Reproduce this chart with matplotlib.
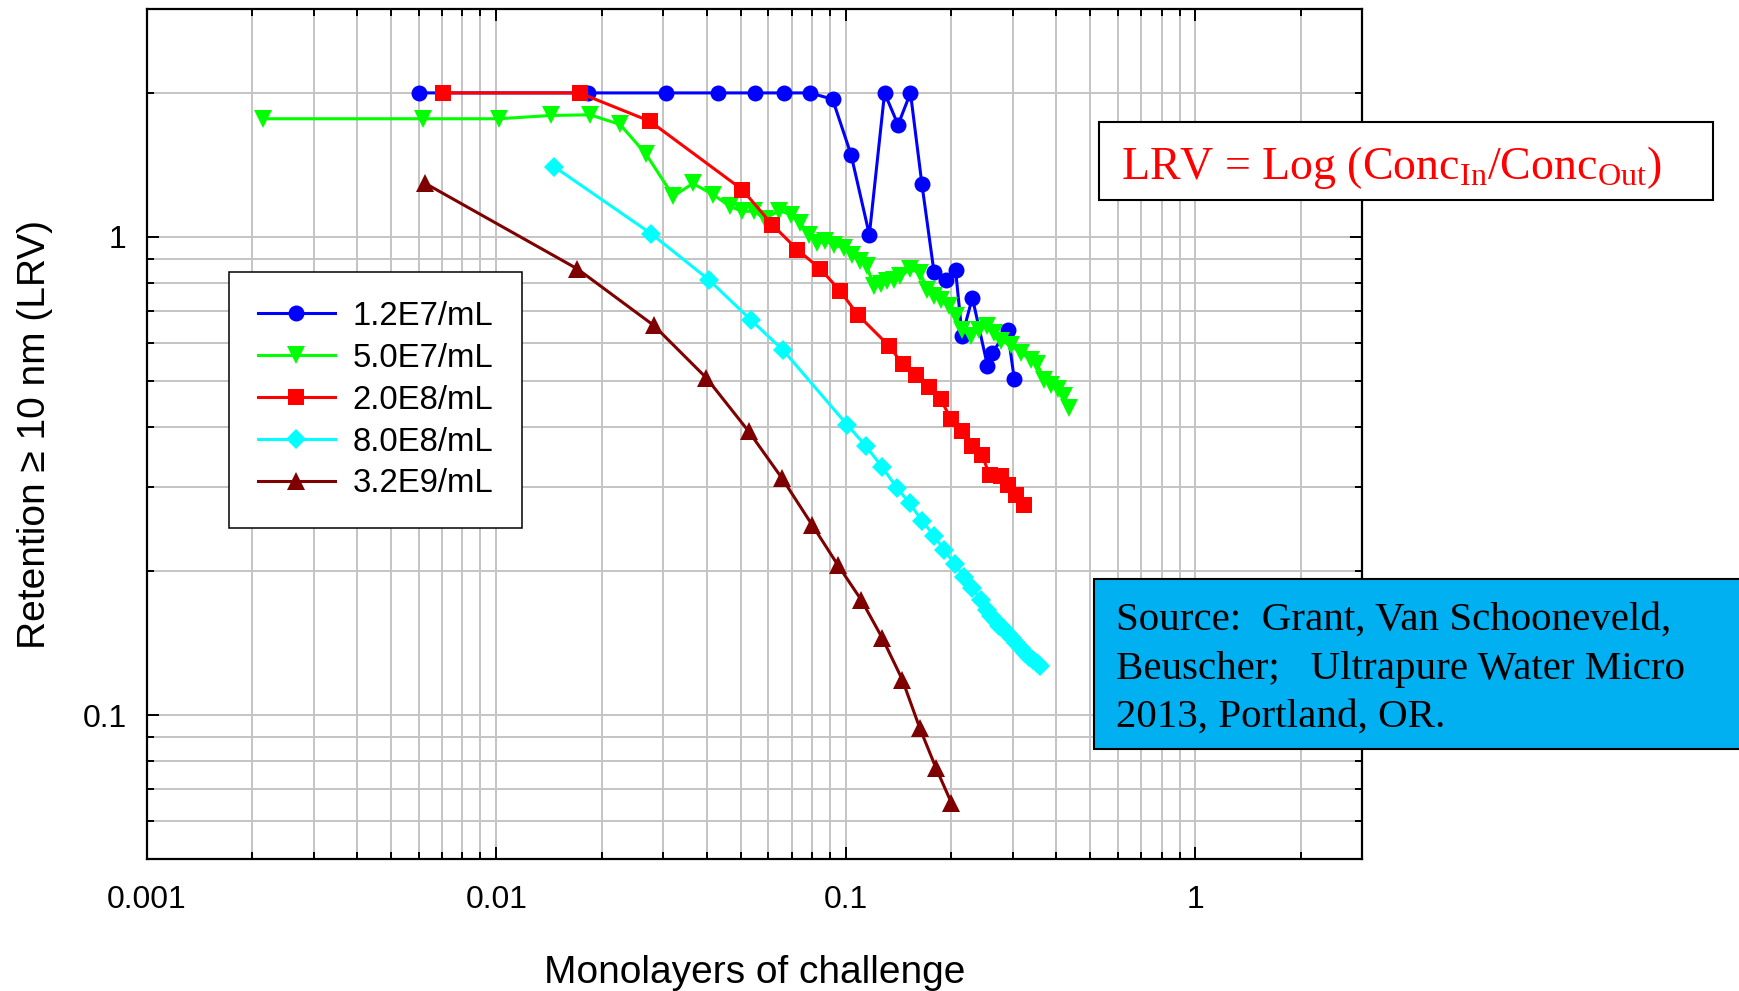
import numpy as np
import matplotlib
matplotlib.use("Agg")
import matplotlib.pyplot as plt
from matplotlib.ticker import FixedLocator, FixedFormatter, LogLocator, NullFormatter
from matplotlib.patches import Rectangle

# ---------------- data ----------------
labels = ["1.2E7/mL", "5.0E7/mL", "2.0E8/mL", "8.0E8/mL", "3.2E9/mL"]

blue_x = [0.0060, 0.0183, 0.0305, 0.043, 0.0548, 0.0667, 0.079, 0.0916, 0.1035, 0.1167,
          0.129, 0.141, 0.153, 0.165, 0.1787, 0.1936, 0.206, 0.215, 0.230, 0.254, 0.262,
          0.290, 0.303]
blue_y = [2.0, 2.0, 2.0, 2.0, 2.0, 2.0, 2.0, 1.94, 1.484, 1.01,
          2.0, 1.715, 2.0, 1.288, 0.843, 0.813, 0.851, 0.62, 0.746, 0.538, 0.572,
          0.638, 0.505]

green_x = [0.00215, 0.00618, 0.0102, 0.0143, 0.01854, 0.0226, 0.0268, 0.0321, 0.0365, 0.0417,
           0.0465, 0.0505, 0.0546, 0.0587, 0.0643, 0.0698, 0.0741, 0.0782, 0.0827, 0.0874,
           0.0923, 0.0986, 0.104, 0.110, 0.115, 0.120, 0.1256, 0.131, 0.137, 0.143,
           0.153, 0.163, 0.171, 0.179, 0.1866, 0.197, 0.206, 0.215, 0.2275, 0.240,
           0.254, 0.265, 0.277, 0.296, 0.316, 0.338, 0.353, 0.369, 0.385, 0.403,
           0.421, 0.435]
green_y = [1.766, 1.766, 1.766, 1.794, 1.80, 1.718, 1.49, 1.216, 1.293, 1.226,
           1.159, 1.131, 1.131, 1.09, 1.135, 1.113, 1.069, 1.011, 0.972, 0.979,
           0.963, 0.948, 0.918, 0.889, 0.868, 0.789, 0.795, 0.807, 0.814, 0.828,
           0.855, 0.841, 0.776, 0.751, 0.739, 0.716, 0.682, 0.640, 0.620, 0.640,
           0.650, 0.630, 0.605, 0.595, 0.572, 0.554, 0.541, 0.503, 0.491, 0.480,
           0.464, 0.439]

red_x = [0.00702, 0.0173, 0.0275, 0.0505, 0.0615, 0.0727, 0.0845, 0.0964, 0.108, 0.1327,
         0.1456, 0.159, 0.173, 0.1866, 0.200, 0.215, 0.230, 0.245, 0.258, 0.277,
         0.290, 0.306, 0.323]
red_y = [2.0, 2.0, 1.745, 1.256, 1.061, 0.94, 0.857, 0.77, 0.688, 0.592,
         0.541, 0.513, 0.486, 0.457, 0.416, 0.392, 0.365, 0.350, 0.317, 0.316,
         0.303, 0.289, 0.275]

cyan_x = [0.01466, 0.0277, 0.0405, 0.0534, 0.0662, 0.1007, 0.1138, 0.127, 0.140, 0.1524,
          0.165, 0.179, 0.191, 0.205, 0.218, 0.230, 0.243, 0.254, 0.2606, 0.268,
          0.275, 0.283, 0.291, 0.299, 0.3076, 0.316, 0.325, 0.334, 0.3436, 0.3516, 0.360]
cyan_y = [1.401, 1.016, 0.814, 0.671, 0.579, 0.405, 0.366, 0.330, 0.2985, 0.277,
          0.255, 0.237, 0.221, 0.207, 0.1945, 0.1845, 0.174, 0.166, 0.161, 0.157,
          0.1535, 0.151, 0.1478, 0.145, 0.1413, 0.138, 0.135, 0.1325, 0.1303, 0.1283, 0.1264]

brown_x = [0.00627, 0.01706, 0.0282, 0.0399, 0.0527, 0.0656, 0.080, 0.0948, 0.1107, 0.127,
           0.145, 0.1626, 0.181, 0.2004]
brown_y = [1.293, 0.857, 0.653, 0.507, 0.392, 0.313, 0.250, 0.206, 0.174, 0.145,
           0.1186, 0.094, 0.0775, 0.0655]

x_ticks = [0.001, 0.01, 0.1, 1]
x_ticklabels = ["0.001", "0.01", "0.1", "1"]
y_ticks = [0.1, 1]
y_ticklabels = ["0.1", "1"]

xlabel = "Monolayers of challenge"
ylabel = "Retention \u2265 10 nm (LRV)"
lrv_text = r"LRV = Log (Conc$_{\mathrm{In}}$/Conc$_{\mathrm{Out}}$)"
source_lines = ["Source:  Grant, Van Schooneveld,",
                "Beuscher;   Ultrapure Water Micro",
                "2013, Portland, OR."]

# ---------------- figure ----------------
plt.rcParams['font.family'] = ['Liberation Sans', 'DejaVu Sans']
plt.rcParams['mathtext.fontset'] = 'custom'
plt.rcParams['mathtext.rm'] = 'Liberation Serif'
plt.rcParams['mathtext.it'] = 'Liberation Serif:italic'

W, H = 1739, 991
fig = plt.figure(figsize=(W / 100, H / 100), dpi=100, facecolor='white')


def fx(px):
    return px / W


def fy(py):
    return 1 - py / H


L, R, T, B = 146.7, 1362.3, 8.7, 859.0
ax = fig.add_axes([fx(L), fy(B), fx(R) - fx(L), fy(T) - fy(B)])
ax.set_xscale('log')
ax.set_yscale('log')
ax.set_xlim(0.001, 3)
ax.set_ylim(0.05, 3)

series = [
    (blue_x, blue_y, '#0000FF', 'o', 11.5),
    (green_x, green_y, '#00FF00', 'v', 13.0),
    (red_x, red_y, '#FF0000', 's', 11.0),
    (cyan_x, cyan_y, '#00FFFF', 'D', 10.5),
    (brown_x, brown_y, '#7F0000', '^', 13.0),
]
for (xs, ys, c, m, ms), lab in zip(series, labels):
    ax.plot(xs, ys, color=c, marker=m, markersize=ms, markeredgewidth=0,
            linewidth=2.2, label=lab, zorder=3)

ax.xaxis.set_major_locator(FixedLocator(x_ticks))
ax.xaxis.set_major_formatter(FixedFormatter(x_ticklabels))
ax.xaxis.set_minor_locator(LogLocator(base=10, subs=np.arange(2, 10), numticks=100))
ax.xaxis.set_minor_formatter(NullFormatter())
ax.yaxis.set_major_locator(FixedLocator(y_ticks))
ax.yaxis.set_major_formatter(FixedFormatter(y_ticklabels))
ax.yaxis.set_minor_locator(LogLocator(base=10, subs=np.arange(2, 10), numticks=100))
ax.yaxis.set_minor_formatter(NullFormatter())

ax.set_axisbelow(True)
ax.grid(True, which='both', color='#c4c4c4', linewidth=1.4)

ax.tick_params(which='both', direction='in', top=True, right=True, width=1.4,
               color='black', labelsize=23, labelcolor='black')
ax.tick_params(which='major', length=8.6)
ax.tick_params(which='minor', length=5.0)
ax.tick_params(axis='x', which='major', pad=19.0)
ax.tick_params(axis='y', which='major', pad=14.4)
for s in ax.spines.values():
    s.set_linewidth(1.6)
    s.set_color('black')

leg = ax.legend(loc='upper left', bbox_to_anchor=((229 - L) / (R - L), (B - 272) / (B - T)),
                borderaxespad=0, prop={'family': 'Liberation Sans', 'size': 23.7},
                frameon=True, fancybox=False, framealpha=1, edgecolor='black',
                borderpad=0.88, labelspacing=0.33, handlelength=2.34,
                handletextpad=0.53, numpoints=1)
leg.get_frame().set_linewidth(1.1)

fig.text(fx(754.5), fy(983), xlabel, ha='center', va='baseline', fontsize=28)
fig.text(fx(35), fy(434), ylabel, rotation=90, ha='center', va='center', fontsize=28)

# LRV box
fig.patches.append(Rectangle((fx(1099), fy(200.2)), fx(1713) - fx(1099), fy(122) - fy(200.2),
                             transform=fig.transFigure, facecolor='white', edgecolor='black',
                             linewidth=1.5, zorder=5))
fig.text(fx(1121), fy(178.7), lrv_text, color='#FF0000', family='Liberation Serif',
         fontsize=33, ha='left', va='baseline', zorder=6)

# Source box
fig.patches.append(Rectangle((fx(1094), fy(749)), fx(1750) - fx(1094), fy(579) - fy(749),
                             transform=fig.transFigure, facecolor='#00B0F0', edgecolor='black',
                             linewidth=1.5, zorder=5))
for line, base in zip(source_lines, [629.5, 678.7, 726.3]):
    fig.text(fx(1115.7), fy(base), line, color='black', family='Liberation Serif',
             fontsize=29.5, ha='left', va='baseline', zorder=6)

fig.savefig('out.png', dpi=100, facecolor='white')
